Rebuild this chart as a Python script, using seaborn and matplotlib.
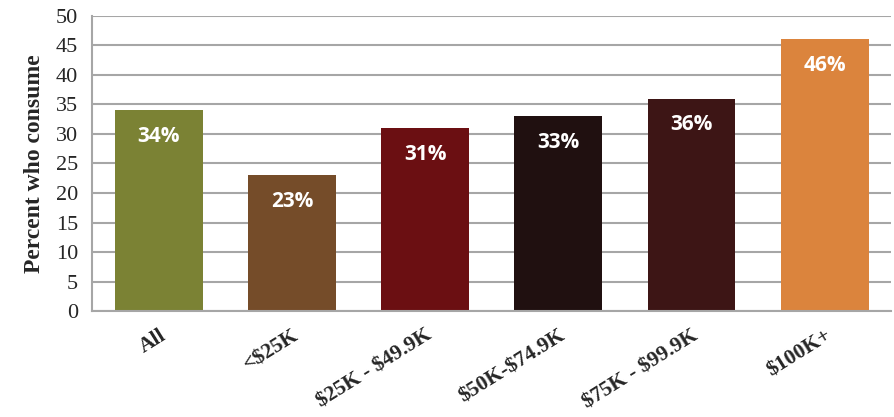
import matplotlib
matplotlib.use("Agg")
import matplotlib.pyplot as plt
import seaborn as sns
import pandas as pd
from matplotlib import transforms

# Share of people who consume, by household income
income_groups = ["All", "<$25K", "$25K - $49.9K", "$50K-$74.9K", "$75K - $99.9K", "$100K+"]
percent_consume = [34, 23, 31, 33, 36, 46]
bar_colors = ["#7B8234", "#754C29", "#6B0F12", "#201010", "#3D1515", "#DB843D"]
y_ticks = [0, 5, 10, 15, 20, 25, 30, 35, 40, 45, 50]

df = pd.DataFrame({"group": income_groups, "pct": percent_consume})

sns.set_style("white")
plt.rcParams["font.family"] = ["Liberation Serif", "DejaVu Serif"]
plt.rcParams["text.parse_math"] = False

fig = plt.figure(figsize=(8.94, 4.17), dpi=100)
ax = fig.add_axes([0.103, 0.254, 0.894, 0.708])

sns.barplot(data=df, x="group", y="pct", hue="group", palette=bar_colors,
            order=income_groups, hue_order=income_groups,
            width=0.66, legend=False, saturation=1, linewidth=0, ax=ax)

ax.set_ylim(0, 50)
ax.set_xlim(-0.5, len(income_groups) - 0.5)
ax.set_yticks(y_ticks)
ax.set_yticklabels([str(t) for t in y_ticks], fontsize=16)
ax.tick_params(axis="y", length=0, pad=10)
ax.tick_params(axis="x", length=0)
ax.yaxis.grid(True, color="#A6A6A6", linewidth=1.5)
ax.set_axisbelow(True)

for side in ["top", "right"]:
    ax.spines[side].set_visible(False)
for side in ["left", "bottom"]:
    ax.spines[side].set_color("#A6A6A6")
    ax.spines[side].set_linewidth(1.5)

ax.set_xlabel("")
ax.set_ylabel("Percent who consume", fontsize=17, fontweight="bold", labelpad=8)

# Rotated category labels
ax.set_xticks(range(len(income_groups)))
offset = transforms.ScaledTranslation(0, -7 / 72, fig.dpi_scale_trans)
ax.set_xticklabels(income_groups, rotation=32, ha="right", va="top",
                   rotation_mode="anchor", fontsize=15.5, fontweight="bold")
for lbl in ax.get_xticklabels():
    lbl.set_transform(lbl.get_transform() + offset)

# Value labels inside bars
for i, v in enumerate(percent_consume):
    ax.text(i, v - 4.4, f"{v}%", ha="center", va="center", color="white",
            fontsize=15, fontweight="bold", family=["Open Sans", "DejaVu Sans"])

fig.savefig("out.png", dpi=100)
